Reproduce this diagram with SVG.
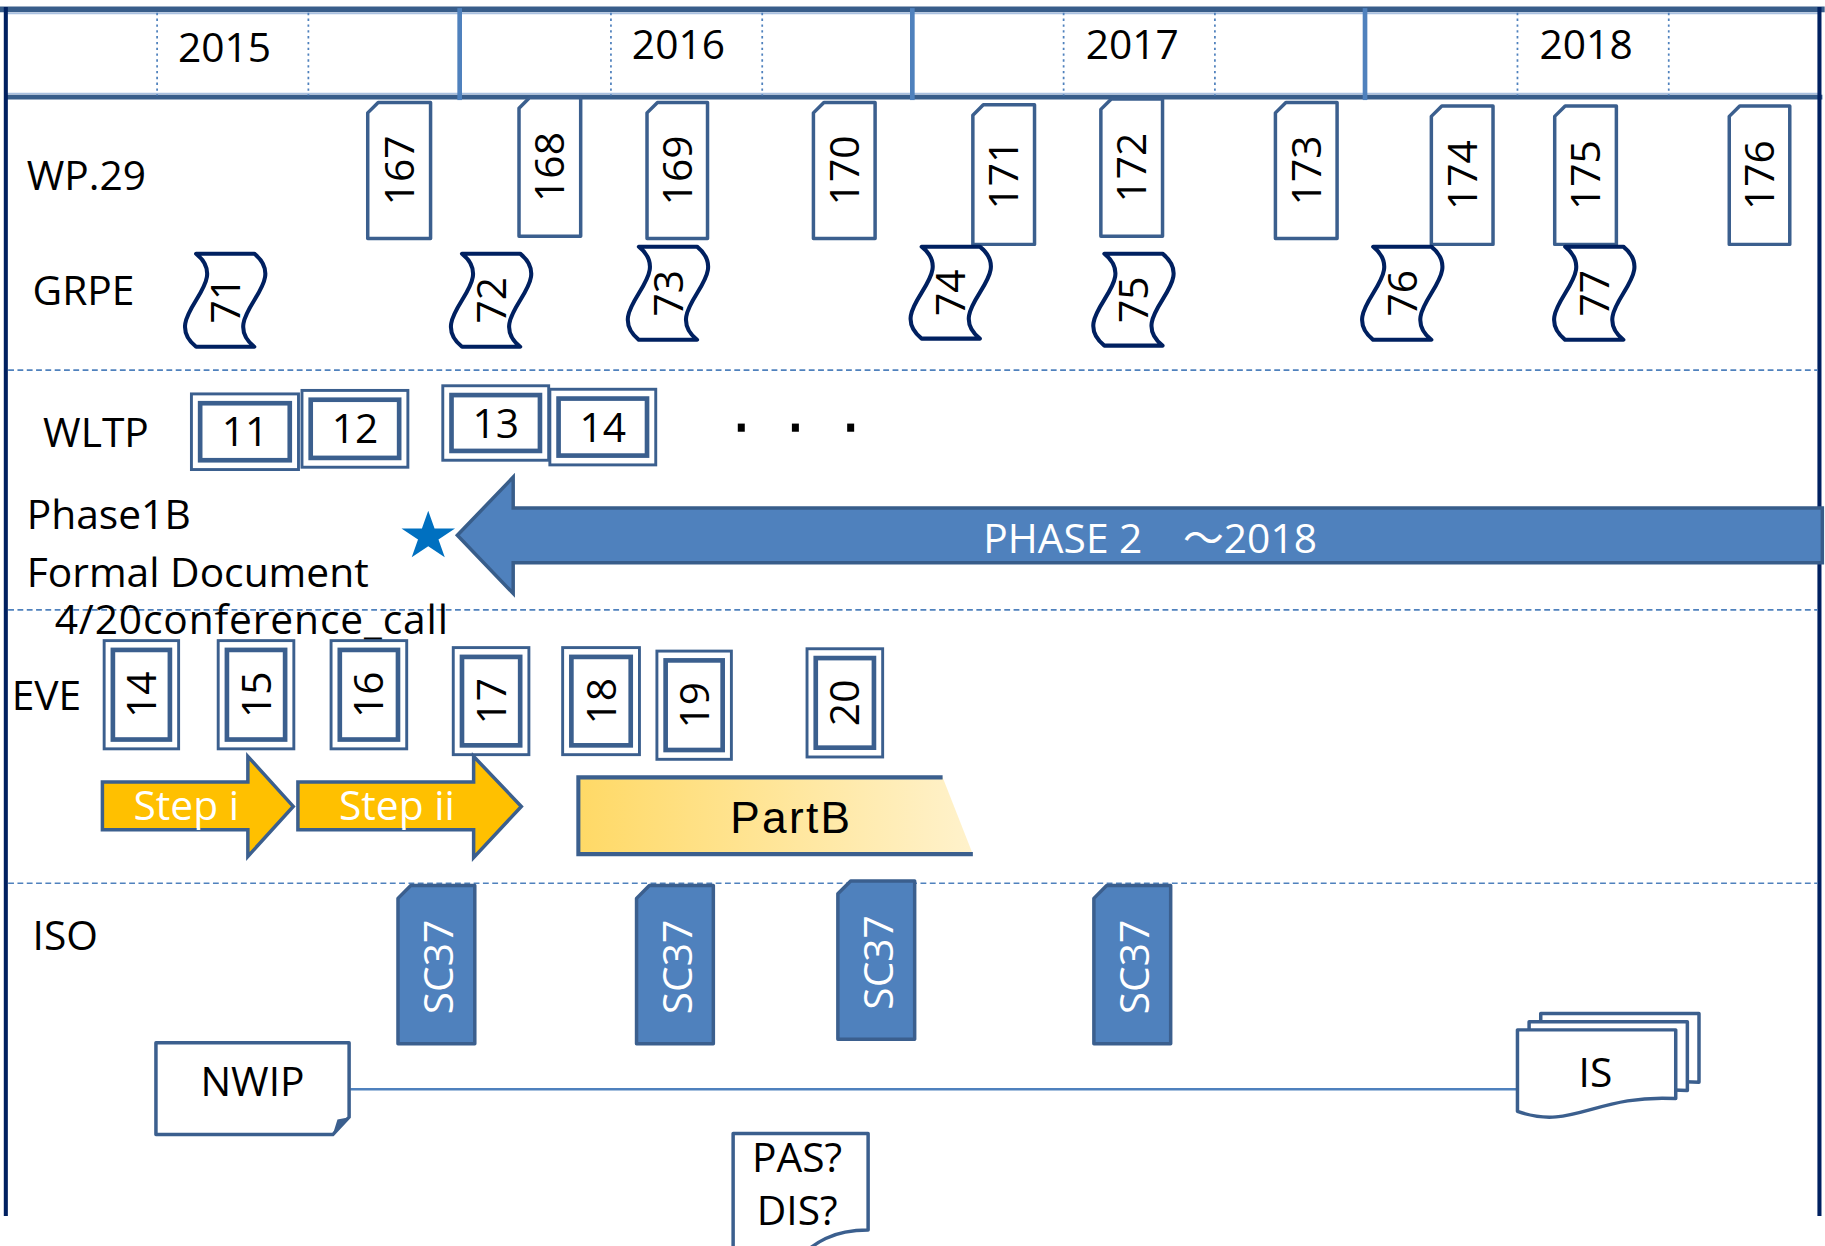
<svg xmlns="http://www.w3.org/2000/svg" width="1825" height="1246" viewBox="0 0 1825 1246">
<style>
.t{font-family:"Open Sans","Noto Sans CJK JP",sans-serif;font-size:35px;fill:#000}
.w{fill:#fff}
.mid{text-anchor:middle}
.wp{fill:#fff;stroke:#3b5f8e;stroke-width:3;stroke-linejoin:round}
.gr{fill:#fff;stroke:#002060;stroke-width:3.5;stroke-linejoin:round}
.ob{fill:#fff;stroke:#3b5f8e;stroke-width:2.5}
.ib{fill:none;stroke:#3b5f8e;stroke-width:4}
.sc{fill:#4f81bd;stroke:#3b5f8e;stroke-width:3;stroke-linejoin:round}
.doc{fill:#fff;stroke:#3b5f8e;stroke-width:3;stroke-linejoin:round}
.sep{stroke:#4f81bd;stroke-width:1.5;stroke-dasharray:5 3;fill:none}
.q{stroke:#4f81bd;stroke-width:1.5;stroke-dasharray:2 3;fill:none}
.yr{stroke:#4f81bd;stroke-width:4;fill:none}
.step{fill:#ffc000;stroke:#3b5f8e;stroke-width:3;stroke-linejoin:miter}
</style>
<defs>
<linearGradient id="pb" x1="0" y1="0" x2="1" y2="0">
<stop offset="0" stop-color="#ffd966"/>
<stop offset="1" stop-color="#fff2cc"/>
</linearGradient>
</defs>
<rect width="1825" height="1246" fill="#fff"/>
<g transform="scale(1.1637)">
<g id="frame">
<line x1="0" y1="8" x2="1568" y2="8" stroke="#385d8a" stroke-width="5"/>
<line x1="6" y1="11.5" x2="1563" y2="11.5" stroke="#a9c0e0" stroke-width="1.5"/>
<line x1="6" y1="80.5" x2="1563" y2="80.5" stroke="#a9c0e0" stroke-width="1.5"/>
<line x1="5" y1="83.5" x2="1566" y2="83.5" stroke="#385d8a" stroke-width="4"/>
<line x1="5" y1="6" x2="5" y2="1045" stroke="#002060" stroke-width="3.5"/>
<line x1="1563.5" y1="6" x2="1563.5" y2="1045" stroke="#002060" stroke-width="3.5"/>
<line class="q" x1="135" y1="11" x2="135" y2="82"/>
<line class="q" x1="265" y1="11" x2="265" y2="82"/>
<line class="q" x1="525" y1="11" x2="525" y2="82"/>
<line class="q" x1="655" y1="11" x2="655" y2="82"/>
<line class="q" x1="914" y1="11" x2="914" y2="82"/>
<line class="q" x1="1044" y1="11" x2="1044" y2="82"/>
<line class="q" x1="1304" y1="11" x2="1304" y2="82"/>
<line class="q" x1="1434" y1="11" x2="1434" y2="82"/>
<line class="yr" x1="395" y1="7" x2="395" y2="86"/>
<line class="yr" x1="784" y1="7" x2="784" y2="86"/>
<line class="yr" x1="1173" y1="7" x2="1173" y2="86"/>
<line class="sep" x1="7" y1="318" x2="1562" y2="318"/>
<line class="sep" x1="7" y1="524" x2="1562" y2="524"/>
<line class="sep" x1="7" y1="759" x2="1562" y2="759"/>
</g>
<g id="years">
<text class="t mid" x="193" y="53">2015</text>
<text class="t mid" x="583" y="51">2016</text>
<text class="t mid" x="973" y="51">2017</text>
<text class="t mid" x="1363" y="51">2018</text>
</g>
<g id="labels">
<text class="t" x="23" y="163">WP.29</text>
<text class="t" x="28" y="262">GRPE</text>
<text class="t" x="37" y="384">WLTP</text>
<text class="t" x="23" y="455">Phase1B</text>
<text class="t" x="23" y="504">Formal Document</text>
<text class="t" x="47" y="545" textLength="338" lengthAdjust="spacing">4/20conference_call</text>
<text class="t" x="10" y="610">EVE</text>
<text class="t" x="28" y="816">ISO</text>
</g>
<g id="wp29">
<g id="wp167"><path class="wp" d="M325,88H370V205H316V97Z"/><text class="t mid" transform="translate(343,146.5) rotate(-90)" y="12.5">167</text></g>
<g id="wp168"><path class="wp" d="M455,84H499V203H446V93Z"/><text class="t mid" transform="translate(472.5,143.5) rotate(-90)" y="12.5">168</text></g>
<g id="wp169"><path class="wp" d="M565,88H608V205H556V97Z"/><text class="t mid" transform="translate(582,146.5) rotate(-90)" y="12.5">169</text></g>
<g id="wp170"><path class="wp" d="M708,88H752V205H699V97Z"/><text class="t mid" transform="translate(725.5,146.5) rotate(-90)" y="12.5">170</text></g>
<g id="wp171"><path class="wp" d="M845,90H889V210H836V99Z"/><text class="t mid" transform="translate(862.5,150) rotate(-90)" y="12.5">171</text></g>
<g id="wp172"><path class="wp" d="M955,85H999V203H946V94Z"/><text class="t mid" transform="translate(972.5,144) rotate(-90)" y="12.5">172</text></g>
<g id="wp173"><path class="wp" d="M1105,88H1149V205H1096V97Z"/><text class="t mid" transform="translate(1122.5,146.5) rotate(-90)" y="12.5">173</text></g>
<g id="wp174"><path class="wp" d="M1239,91H1283V210H1230V100Z"/><text class="t mid" transform="translate(1256.5,150.5) rotate(-90)" y="12.5">174</text></g>
<g id="wp175"><path class="wp" d="M1345,91H1389V210H1336V100Z"/><text class="t mid" transform="translate(1362.5,150.5) rotate(-90)" y="12.5">175</text></g>
<g id="wp176"><path class="wp" d="M1495,91H1538V210H1486V100Z"/><text class="t mid" transform="translate(1512,150.5) rotate(-90)" y="12.5">176</text></g>
</g>
<g id="grpe">
<g id="g71"><path class="gr" d="M168.5,218H218.5C251.5,244.7 185.5,271.3 218.5,298H168.5C135.5,271.3 201.5,244.7 168.5,218Z"/><text class="t mid" transform="translate(193.5,258) rotate(-90)" y="12.5">71</text></g>
<g id="g72"><path class="gr" d="M397,218H447C480,244.7 414,271.3 447,298H397C364,271.3 430,244.7 397,218Z"/><text class="t mid" transform="translate(422,258) rotate(-90)" y="12.5">72</text></g>
<g id="g73"><path class="gr" d="M549,212H599C632,238.7 566,265.3 599,292H549C516,265.3 582,238.7 549,212Z"/><text class="t mid" transform="translate(574,252) rotate(-90)" y="12.5">73</text></g>
<g id="g74"><path class="gr" d="M792,212H842C875,238.3 809,264.7 842,291H792C759,264.7 825,238.3 792,212Z"/><text class="t mid" transform="translate(817,251.5) rotate(-90)" y="12.5">74</text></g>
<g id="g75"><path class="gr" d="M949,218H999C1032,244.3 966,270.7 999,297H949C916,270.7 982,244.3 949,218Z"/><text class="t mid" transform="translate(974,257.5) rotate(-90)" y="12.5">75</text></g>
<g id="g76"><path class="gr" d="M1180,212H1230C1263,238.7 1197,265.3 1230,292H1180C1147,265.3 1213,238.7 1180,212Z"/><text class="t mid" transform="translate(1205,252) rotate(-90)" y="12.5">76</text></g>
<g id="g77"><path class="gr" d="M1345,212H1395C1428,238.7 1362,265.3 1395,292H1345C1312,265.3 1378,238.7 1345,212Z"/><text class="t mid" transform="translate(1370,252) rotate(-90)" y="12.5">77</text></g>
</g>
<g id="wltp">
<g id="w11"><rect class="ob" x="164.5" y="338.5" width="92" height="65"/><rect class="ib" x="172" y="346.5" width="77" height="49"/><text class="t mid" x="210.5" y="383.5">11</text></g>
<g id="w12"><rect class="ob" x="259.5" y="335.5" width="91" height="66"/><rect class="ib" x="267" y="343.5" width="76" height="50"/><text class="t mid" x="305" y="381">12</text></g>
<g id="w13"><rect class="ob" x="380.5" y="331.5" width="91" height="64"/><rect class="ib" x="388" y="339.5" width="76" height="48"/><text class="t mid" x="426" y="376.5">13</text></g>
<g id="w14"><rect class="ob" x="472.5" y="334.5" width="91" height="65"/><rect class="ib" x="480" y="342.5" width="76" height="49"/><text class="t mid" x="518" y="380">14</text></g>
<g id="dots" fill="#000"><rect x="634" y="364" width="6" height="7"/><rect x="680.5" y="364" width="6" height="7"/><rect x="728" y="364" width="6" height="7"/></g>
</g>
<g id="star"><polygon fill="#0070c0" transform="translate(368,461)" points="0,-22 5.43,-6.8 23,-6.8 8.79,2.6 14.2,17.8 0,8.4 -14.2,17.8 -8.79,2.6 -23,-6.8 -5.43,-6.8"/></g>
<g id="phase2">
<polygon fill="#4f81bd" stroke="#385d8a" stroke-width="3" stroke-linejoin="miter" points="393,460 441,410 441,436.5 1566,436.5 1566,483.5 441,483.5 441,510"/>
<text class="t w" x="845" y="475">PHASE 2　～2018</text>
</g>
<g id="eve">
<g id="e14"><rect class="ob" x="89.5" y="550.5" width="64" height="93"/><rect class="ib" x="97" y="558.5" width="49" height="77"/><text class="t mid" transform="translate(121.5,597) rotate(-90)" y="12.5">14</text></g>
<g id="e15"><rect class="ob" x="187.5" y="550.5" width="65" height="93"/><rect class="ib" x="195" y="558.5" width="50" height="77"/><text class="t mid" transform="translate(220,597) rotate(-90)" y="12.5">15</text></g>
<g id="e16"><rect class="ob" x="284.5" y="550.5" width="65" height="93"/><rect class="ib" x="292" y="558.5" width="50" height="77"/><text class="t mid" transform="translate(317,597) rotate(-90)" y="12.5">16</text></g>
<g id="e17"><rect class="ob" x="389.5" y="556.5" width="65" height="92"/><rect class="ib" x="397" y="564.5" width="50" height="76"/><text class="t mid" transform="translate(422,602.5) rotate(-90)" y="12.5">17</text></g>
<g id="e18"><rect class="ob" x="483.5" y="556.5" width="66" height="92"/><rect class="ib" x="491" y="564.5" width="51" height="76"/><text class="t mid" transform="translate(516.5,602.5) rotate(-90)" y="12.5">18</text></g>
<g id="e19"><rect class="ob" x="564.5" y="559.5" width="64" height="93"/><rect class="ib" x="572" y="567.5" width="49" height="77"/><text class="t mid" transform="translate(596.5,606) rotate(-90)" y="12.5">19</text></g>
<g id="e20"><rect class="ob" x="693.5" y="557.5" width="65" height="93"/><rect class="ib" x="701" y="565.5" width="50" height="77"/><text class="t mid" transform="translate(726,604) rotate(-90)" y="12.5">20</text></g>
</g>
<g id="stepi"><polygon class="step" points="88,672 213,672 213,650 252,693 213,736 213,713 88,713"/><text class="t w mid" x="160" y="705">Step i</text></g>
<g id="stepii"><polygon class="step" points="256,672 407,672 407,650 448,693 407,737 407,713 256,713"/><text class="t w mid" x="341" y="705">Step ii</text></g>
<g id="partb">
<path fill="url(#pb)" d="M497,668H810L836,734H497Z"/>
<path fill="none" stroke="#3b5f8e" stroke-width="3.5" d="M810,668H497V734H836"/>
<text x="680" y="716" text-anchor="middle" font-family="Liberation Sans, Arial, sans-serif" font-size="38" letter-spacing="2" fill="#000">PartB</text>
</g>
<g id="iso">
<g id="sc1"><path class="sc" d="M353,761H408V897H342V772Z"/><text class="t w mid" transform="translate(377,831) rotate(-90)" y="12.5">SC37</text></g>
<g id="sc2"><path class="sc" d="M558,761H613V897H547V772Z"/><text class="t w mid" transform="translate(582,831) rotate(-90)" y="12.5">SC37</text></g>
<g id="sc3"><path class="sc" d="M731,757H786V893H720V768Z"/><text class="t w mid" transform="translate(755,827) rotate(-90)" y="12.5">SC37</text></g>
<g id="sc4"><path class="sc" d="M951,761H1006V897H940V772Z"/><text class="t w mid" transform="translate(975,831) rotate(-90)" y="12.5">SC37</text></g>
</g>
<g id="connectors">
<line x1="301" y1="936" x2="1304" y2="936" stroke="#4f81bd" stroke-width="2"/>
</g>
<g id="nwip">
<path class="doc" d="M134,896H300V960L286,975H134Z"/>
<path fill="#3b5f8e" d="M286,975L290,962L300,960Z"/>
<text class="t mid" x="217" y="942">NWIP</text>
</g>
<g id="is">
<path class="doc" d="M1324,871H1460V930C1391,926 1371,958 1324,941Z"/>
<path class="doc" d="M1314,878H1450V937C1381,933 1361,965 1314,948Z"/>
<path class="doc" d="M1304,885H1440V944C1371,940 1351,972 1304,955Z"/>
<text class="t mid" x="1371" y="934">IS</text>
</g>
<g id="pasdis">
<path class="doc" d="M630,974H746V1057C715,1057 700,1068 685,1082L630,1095Z"/>
<text class="t mid" x="685" y="1007">PAS?</text>
<text class="t mid" x="685" y="1053">DIS?</text>
</g>
</g>
</svg>
